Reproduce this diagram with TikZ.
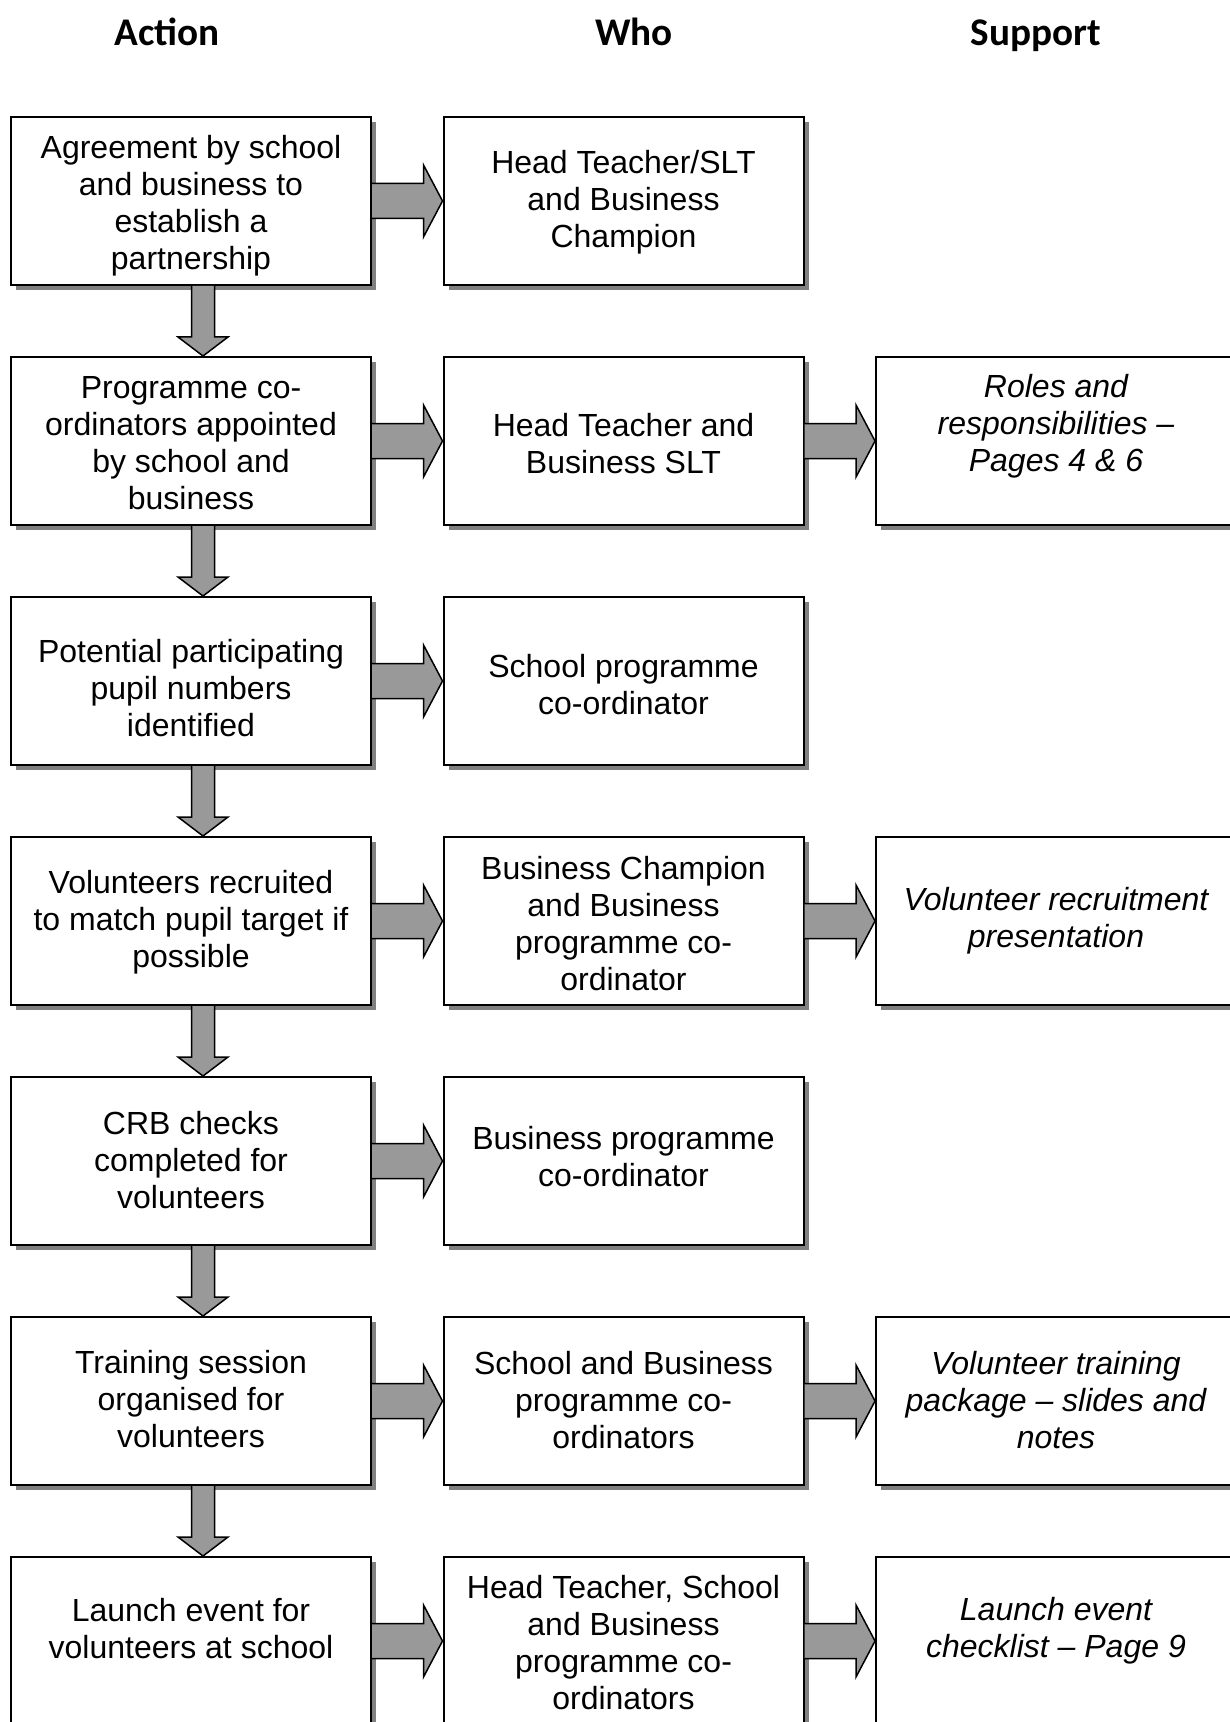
\documentclass[tikz,border=0pt]{standalone}
\usepackage{fontspec}
\setmainfont{Liberation Sans}
\newfontfamily\headfamily{Carlito}
\usepackage{tikz}
\usetikzlibrary{calc,shadows}
\definecolor{GrisSombra}{RGB}{128,128,128}
\definecolor{GrisFlecha}{RGB}{153,153,153}
\newcommand{\boxfont}{\fontsize{16pt}{18.5pt}\selectfont}
\newcommand{\headfont}{\headfamily\bfseries\fontsize{19.6pt}{22pt}\selectfont}
% text of a box, lowered by #2 pt from the centre
\newcommand{\boxtext}[3][12]{\rule{0pt}{\dimexpr#1pt+#2pt\relax}#3\rule[\dimexpr#2pt-#1pt\relax]{0pt}{0pt}}
% block arrows between boxes
\newcommand{\rightblock}[2]{%
  \filldraw[blockarrow] ($(#1.east)+(0,-17.5)$) -- ($(#2.west)+(-19,-17.5)$) -- ($(#2.west)+(-19,-36)$)
    -- (#2.west) -- ($(#2.west)+(-19,36)$) -- ($(#2.west)+(-19,17.5)$) -- ($(#1.east)+(0,17.5)$);}
\newcommand{\downblock}[2]{%
  \filldraw[blockarrow] ($(#1.south)+(0.5,0)$) -- ($(#2.north)+(0.5,-19)$) -- ($(#2.north)+(-13,-19)$)
    -- ($(#2.north)+(12,0)$) -- ($(#2.north)+(37,-19)$) -- ($(#2.north)+(23.5,-19)$) -- ($(#1.south)+(23.5,0)$);}

\begin{document}
\begin{tikzpicture}[x=0.5pt,y=-0.5pt,
    stepbox/.style={draw,line width=1pt,fill=white,minimum width=180pt,minimum height=84pt,
      inner sep=0pt,align=center,font=\boxfont,
      drop shadow={shadow xshift=2.5pt,shadow yshift=-2.5pt,fill=GrisSombra,opacity=1}},
    supportbox/.style={stepbox,font=\boxfont\itshape},
    colhead/.style={font=\headfont,anchor=base,inner sep=0pt},
    blockarrow/.style={draw=black,line width=0.75pt,fill=GrisFlecha,line join=miter}]
  \useasboundingbox (0,0) rectangle (1230,1722);
  \clip (0,0) rectangle (1230,1722);

  \node[colhead] (hAction) at (167,46) {Action};
  \node[colhead] (hWho) at (634,46) {Who};
  \node[colhead] (hSupport) at (1036,46) {Support};

  % Action column
  \node[stepbox] (a1) at (191,201) {\boxtext{6.5}{Agreement by school\\and business to\\establish a\\partnership}};
  \node[stepbox] (a2) at (191,441) {\boxtext{6.7}{Programme co-\\ordinators appointed\\by school and\\business}};
  \node[stepbox] (a3) at (191,681) {\boxtext{9.2}{Potential participating\\pupil numbers\\identified}};
  \node[stepbox] (a4) at (191,921) {\boxtext{4.6}{Volunteers recruited\\to match pupil target if\\possible}};
  \node[stepbox] (a5) at (191,1161) {\boxtext{5.2}{CRB checks\\completed for\\volunteers}};
  \node[stepbox] (a6) at (191,1401) {\boxtext{4.6}{Training session\\organised for\\volunteers}};
  \node[stepbox] (a7) at (191,1641) {\boxtext[16]{-0.5}{Launch event for\\volunteers at school}};

  % Who column
  \node[stepbox] (w1) at (623.5,201) {\boxtext{4.8}{Head Teacher/SLT\\and Business\\Champion}};
  \node[stepbox] (w2) at (623.5,441) {\boxtext{7.2}{Head Teacher and\\Business SLT}};
  \node[stepbox] (w3) at (623.5,681) {\boxtext{7.6}{School programme\\co-ordinator}};
  \node[stepbox] (w4) at (623.5,921) {\boxtext{6.9}{Business Champion\\and Business\\programme co-\\ordinator}};
  \node[stepbox] (w5) at (623.5,1161) {\boxtext{3.6}{Business programme\\co-ordinator}};
  \node[stepbox] (w6) at (623.5,1401) {\boxtext{5.2}{School and Business\\programme co-\\ordinators}};
  \node[stepbox] (w7) at (623.5,1641) {\boxtext{6.5}{Head Teacher, School\\and Business\\programme co-\\ordinators}};

  % Support column
  \node[supportbox] (s2) at (1056,441) {\boxtext[16]{-3.4}{Roles and\\responsibilities --\\Pages 4 \& 6}};
  \node[supportbox] (s4) at (1056,921) {\boxtext{4.1}{Volunteer recruitment\\presentation}};
  \node[supportbox] (s6) at (1056,1401) {\boxtext{5.2}{Volunteer training\\package -- slides and\\notes}};
  \node[supportbox] (s7) at (1056,1641) {\boxtext[16]{-0.8}{Launch event\\checklist -- Page 9}};

  \rightblock{a1}{w1}
  \rightblock{a2}{w2}
  \rightblock{a3}{w3}
  \rightblock{a4}{w4}
  \rightblock{a5}{w5}
  \rightblock{a6}{w6}
  \rightblock{a7}{w7}
  \rightblock{w2}{s2}
  \rightblock{w4}{s4}
  \rightblock{w6}{s6}
  \rightblock{w7}{s7}

  \downblock{a1}{a2}
  \downblock{a2}{a3}
  \downblock{a3}{a4}
  \downblock{a4}{a5}
  \downblock{a5}{a6}
  \downblock{a6}{a7}
\end{tikzpicture}
\end{document}
